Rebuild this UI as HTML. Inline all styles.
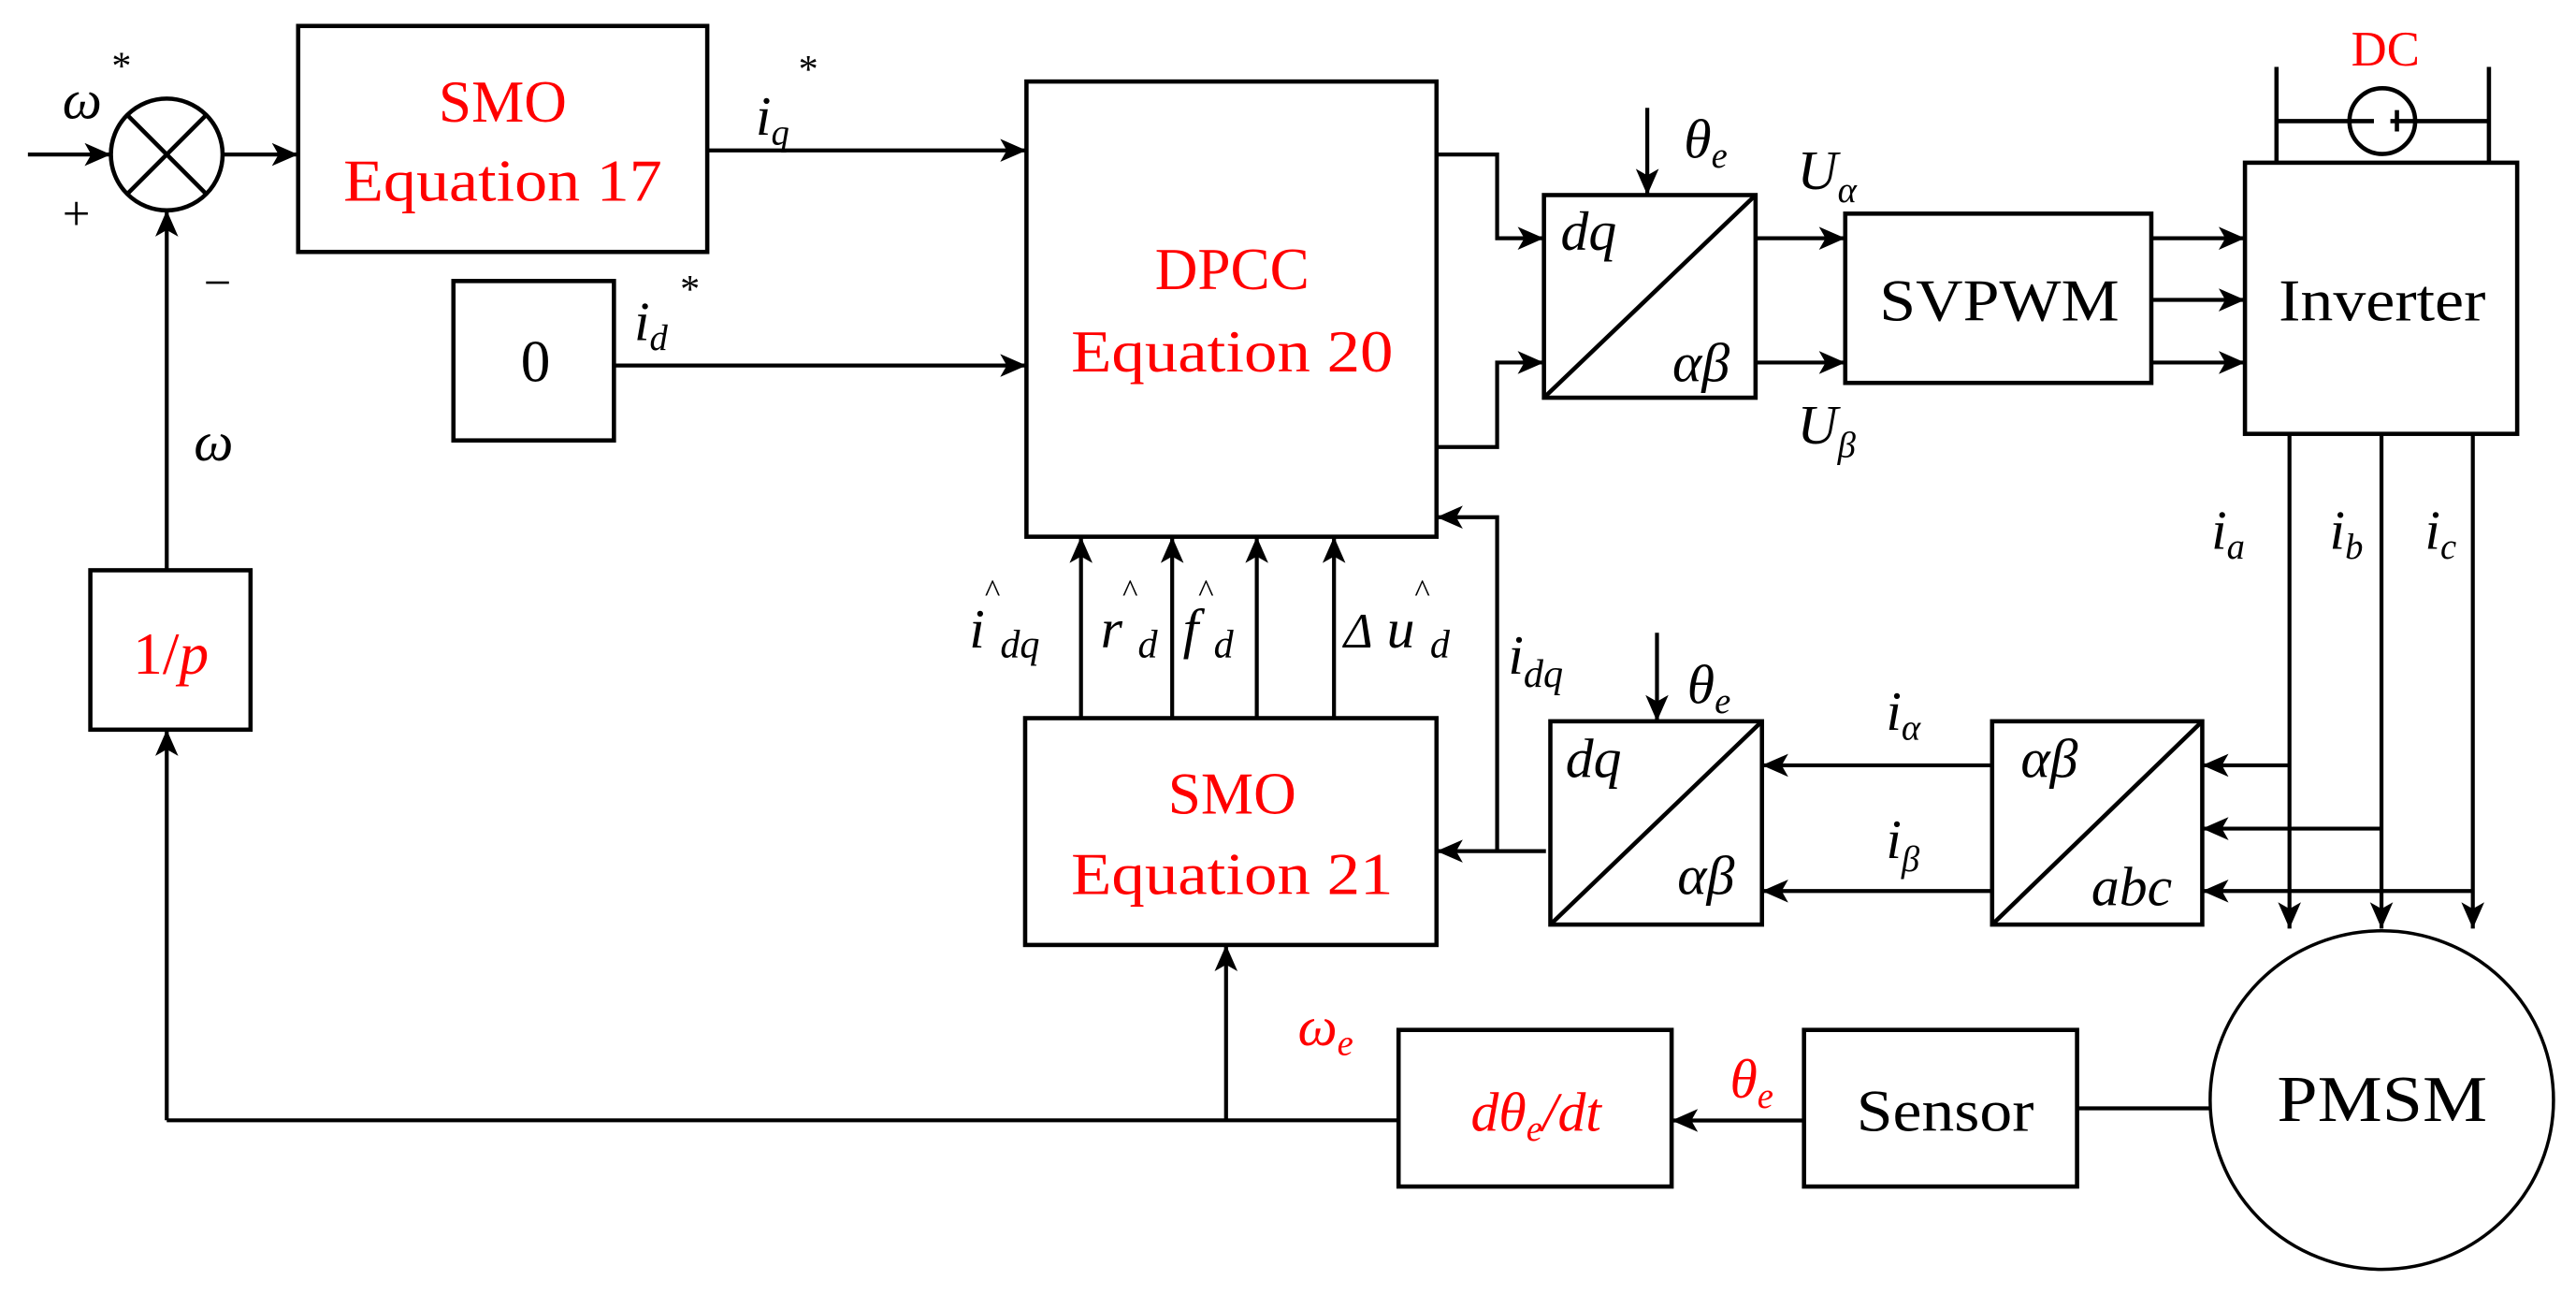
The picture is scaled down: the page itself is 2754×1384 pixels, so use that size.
<!DOCTYPE html>
<html><head><meta charset="utf-8"><style>
html,body{margin:0;padding:0;background:#fff;}
svg{display:block;}
text{font-family:"Liberation Serif",serif;}
.r{fill:#f00;}
.i{font-style:italic;}
</style></head><body>
<svg width="2754" height="1384" viewBox="0 0 1568 788" preserveAspectRatio="none" xmlns="http://www.w3.org/2000/svg">
<defs>
<marker id="a" markerUnits="userSpaceOnUse" markerWidth="18" markerHeight="16" refX="16" refY="7" orient="auto">
<path d="M0,0 L16,7 L0,14 L4,7 Z" fill="#000"/>
</marker>
</defs>
<g fill="none" stroke="#000" stroke-width="2.6">
<rect x="181.5" y="15.8" width="249" height="137.5"/>
<rect x="276" y="171" width="97.7" height="97"/>
<rect x="624.8" y="49.6" width="249.6" height="277"/>
<rect x="939.8" y="118.7" width="128.8" height="123.3"/>
<line x1="939.8" y1="242" x2="1068.6" y2="118.7"/>
<rect x="1123.2" y="130" width="186.3" height="103"/>
<rect x="1366.5" y="99" width="165.7" height="165"/>
<rect x="55" y="347" width="97.5" height="97"/>
<rect x="624" y="437" width="250.4" height="138"/>
<rect x="943.7" y="438.9" width="128.8" height="123.7"/>
<line x1="943.7" y1="562.6" x2="1072.5" y2="438.9"/>
<rect x="1212.6" y="438.9" width="127.9" height="123.7"/>
<line x1="1212.6" y1="562.6" x2="1340.5" y2="438.9"/>
<rect x="851.3" y="626.7" width="166.2" height="95.3"/>
<rect x="1098.1" y="626.7" width="166.2" height="95.3"/>
<circle cx="101.5" cy="94" r="34"/>
<line x1="77.5" y1="70" x2="125.5" y2="118"/>
<line x1="125.5" y1="70" x2="77.5" y2="118"/>
<line x1="1385.7" y1="40.7" x2="1385.7" y2="99"/>
<line x1="1515" y1="40.7" x2="1515" y2="99"/>
<line x1="1385.7" y1="73.7" x2="1445" y2="73.7"/>
<line x1="1455" y1="73.7" x2="1515" y2="73.7"/>
<circle cx="1450.1" cy="73.7" r="20"/>
<line x1="1459" y1="67" x2="1459" y2="80"/>
</g>
<ellipse cx="1449.8" cy="669.4" rx="104.5" ry="103" fill="none" stroke="#000" stroke-width="2"/>
<g fill="none" stroke="#000" stroke-width="2.4" marker-end="url(#a)">
<line x1="17" y1="94" x2="67.5" y2="94"/>
<line x1="135.5" y1="94" x2="181.5" y2="94"/>
<line x1="430.5" y1="91.5" x2="624.8" y2="91.5"/>
<line x1="373.7" y1="222.4" x2="624.8" y2="222.4"/>
<polyline points="101.5,347 101.5,128"/>
<polyline points="101.5,681.7 101.5,444"/>
<polyline points="851.3,681.7 101.5,681.7" marker-end="none"/>
<line x1="746.3" y1="681.7" x2="746.3" y2="575"/>
<line x1="658" y1="437" x2="658" y2="326.6"/>
<line x1="713.5" y1="437" x2="713.5" y2="326.6"/>
<line x1="765" y1="437" x2="765" y2="326.6"/>
<line x1="812" y1="437" x2="812" y2="326.6"/>
<polyline points="874.4,94 911.3,94 911.3,145 939.8,145"/>
<polyline points="874.4,272 911.3,272 911.3,220.6 939.8,220.6"/>
<line x1="1002.7" y1="65.6" x2="1002.7" y2="118.7"/>
<line x1="1068.6" y1="145" x2="1123.2" y2="145"/>
<line x1="1068.6" y1="220.6" x2="1123.2" y2="220.6"/>
<line x1="1309.5" y1="145" x2="1366.5" y2="145"/>
<line x1="1309.5" y1="182.5" x2="1366.5" y2="182.5"/>
<line x1="1309.5" y1="220.6" x2="1366.5" y2="220.6"/>
<line x1="1393.6" y1="264" x2="1393.6" y2="565"/>
<line x1="1449.6" y1="264" x2="1449.6" y2="565"/>
<line x1="1505.2" y1="264" x2="1505.2" y2="565"/>
<polyline points="1393.6,465.7 1340.5,465.7"/>
<polyline points="1449.6,504.2 1340.5,504.2"/>
<polyline points="1505.2,542.2 1340.5,542.2"/>
<line x1="1212.6" y1="465.7" x2="1072.5" y2="465.7"/>
<line x1="1212.6" y1="542.2" x2="1072.5" y2="542.2"/>
<line x1="1008.6" y1="385" x2="1008.6" y2="438.9"/>
<line x1="941" y1="517.9" x2="874.4" y2="517.9"/>
<polyline points="911.3,517.9 911.3,314.7 874.4,314.7"/>
<line x1="1098.1" y1="681.8" x2="1017.5" y2="681.8"/>
<line x1="1264.3" y1="674.4" x2="1345.4" y2="674.4" marker-end="none"/>
</g>
<g font-size="36" text-anchor="middle">
<text x="306" y="74" class="r">SMO</text>
<text x="306" y="122" class="r" textLength="194" lengthAdjust="spacingAndGlyphs">Equation 17</text>
<text x="750" y="176" class="r">DPCC</text>
<text x="750" y="226" class="r" textLength="196" lengthAdjust="spacingAndGlyphs">Equation 20</text>
<text x="750" y="495" class="r">SMO</text>
<text x="750" y="544" class="r" textLength="196" lengthAdjust="spacingAndGlyphs">Equation 21</text>
<text x="326" y="232">0</text>
<text x="1217" y="195" textLength="146" lengthAdjust="spacingAndGlyphs">SVPWM</text>
<text x="1450" y="195" textLength="126" lengthAdjust="spacingAndGlyphs">Inverter</text>
<text x="1184" y="688" textLength="108" lengthAdjust="spacingAndGlyphs">Sensor</text>
<text x="1450" y="682" font-size="40" textLength="128" lengthAdjust="spacingAndGlyphs">PMSM</text>
<text x="1452" y="40" class="r" font-size="30">DC</text>
<text x="104" y="410" class="r">1/<tspan class="i">p</tspan></text>
<text x="935" y="688" class="r i" font-size="34">dθ<tspan font-size="22" dy="6">e</tspan><tspan dy="-6">/dt</tspan></text>
</g>
<g font-size="34" class="i">
<text x="38" y="72">ω</text><text x="68" y="48" font-size="24" font-style="normal">*</text>
<text x="38" y="140" font-size="30" font-style="normal">+</text>
<text x="124" y="182" font-size="30" font-style="normal">−</text>
<text x="118" y="280">ω</text>
<text x="460" y="82">i<tspan font-size="22" dy="6">q</tspan></text><text x="486" y="50" font-size="24" font-style="normal">*</text>
<text x="386" y="207">i<tspan font-size="22" dy="6">d</tspan></text><text x="414" y="184" font-size="24" font-style="normal">*</text>
<text x="1025" y="96">θ<tspan font-size="22" dy="6">e</tspan></text>
<text x="1094" y="115">U<tspan font-size="22" dy="8">α</tspan></text>
<text x="1094" y="270">U<tspan font-size="22" dy="8">β</tspan></text>
<text x="950" y="152">dq</text>
<text x="1018" y="232">αβ</text>
<text x="953" y="473">dq</text>
<text x="1021" y="544">αβ</text>
<text x="1230" y="473">αβ</text>
<text x="1273" y="551">abc</text>
<text x="1027" y="428">θ<tspan font-size="22" dy="6">e</tspan></text>
<text x="1148" y="444">i<tspan font-size="22" dy="6">α</tspan></text>
<text x="1148" y="522">i<tspan font-size="22" dy="8">β</tspan></text>
<text x="1346" y="334">i<tspan font-size="22" dy="6">a</tspan></text>
<text x="1418" y="334">i<tspan font-size="22" dy="6">b</tspan></text>
<text x="1476" y="334">i<tspan font-size="22" dy="6">c</tspan></text>
<text x="590" y="394">i<tspan font-size="20" dy="-28" font-style="normal">^</tspan><tspan font-size="24" dy="34">dq</tspan></text>
<text x="670" y="394">r<tspan font-size="20" dy="-28" font-style="normal">^</tspan><tspan font-size="24" dy="34">d</tspan></text>
<text x="720" y="394">f<tspan font-size="20" dy="-28" font-style="normal">^</tspan><tspan font-size="24" dy="34">d</tspan></text>
<text x="818" y="394"><tspan font-size="30">Δ</tspan> u<tspan font-size="20" dy="-28" font-style="normal">^</tspan><tspan font-size="24" dy="34">d</tspan></text>
<text x="918" y="410">i<tspan font-size="24" dy="8">dq</tspan></text>
<text x="790" y="636" class="r">ω<tspan font-size="22" dy="6">e</tspan></text>
<text x="1053" y="668" class="r">θ<tspan font-size="22" dy="6">e</tspan></text>
</g>
</svg>
</body></html>
